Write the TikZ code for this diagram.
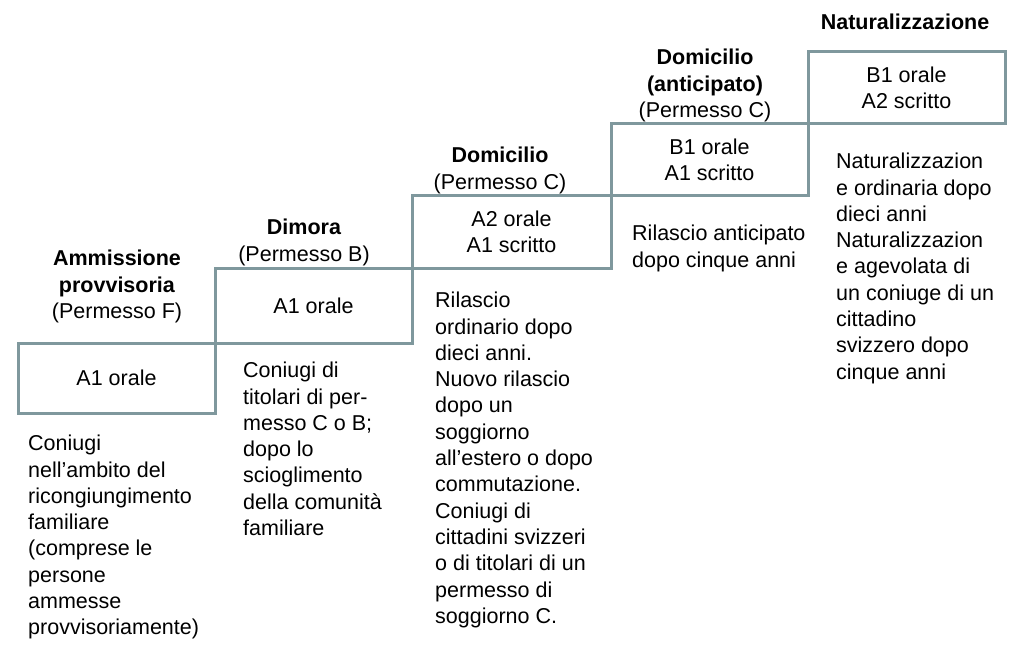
\documentclass[tikz,border=0pt]{standalone}
\usepackage{fontspec}
\setmainfont{Liberation Sans}
\usepackage{xcolor}
\usepackage{tikz}

\definecolor{stepline}{RGB}{127,152,157}
\newcommand{\stepfont}{\fontsize{21.5}{26.3}\selectfont}

\tikzset{
  lvlbox/.style={draw=stepline, line width=3pt, inner sep=0pt,
    minimum width=197pt, align=center, font=\stepfont},
  lvltitle/.style={anchor=north, inner sep=0pt, align=center, font=\stepfont},
  lvlnote/.style={anchor=north west, inner sep=0pt, align=left, font=\stepfont}
}

\begin{document}
\begin{tikzpicture}[x=1pt, y=-1pt]
\useasboundingbox (0,0) rectangle (1024,655);

% steps
\node[lvlbox, minimum height=70pt] (b1) at (116.5,378) {A1 orale};
\node[lvlbox, minimum height=75pt] (b2) at (313.5,305.5) {A1 orale};
\node[lvlbox, minimum width=199pt, minimum height=73pt] (b3) at (511.5,231.5) {A2 orale\\A1 scritto};
\node[lvlbox, minimum height=71pt] (b4) at (709.5,159.5) {B1 orale\\A1 scritto};
\node[lvlbox, minimum height=72pt] (b5) at (906.5,88) {B1 orale\\A2 scritto};

% titles
\node[lvltitle] (t1) at (117,250) {\textbf{Ammissione}\\\textbf{provvisoria}\\(Permesso F)};
\node[lvltitle] (t2) at (304,219) {\textbf{Dimora}\\(Permesso B)};
\node[lvltitle] (t3) at (500,147) {\textbf{Domicilio}\\(Permesso C)};
\node[lvltitle] (t4) at (705,49) {\textbf{Domicilio}\\\textbf{(anticipato)}\\(Permesso C)};
\node[lvltitle] (t5) at (905,14) {\textbf{Naturalizzazione}};

% notes
\node[lvlnote] (n1) at (28,435) {Coniugi\\nell’ambito del\\ricongiungimento\\familiare\\(comprese le\\persone\\ammesse\\provvisoriamente)};
\node[lvlnote] (n2) at (243,362) {Coniugi di\\titolari di per-\\messo C o B;\\dopo lo\\scioglimento\\della comunità\\familiare};
\node[lvlnote] (n3) at (435,292) {Rilascio\\ordinario dopo\\dieci anni.\\Nuovo rilascio\\dopo un\\soggiorno\\all’estero o dopo\\commutazione.\\Coniugi di\\cittadini svizzeri\\o di titolari di un\\permesso di\\soggiorno C.};
\node[lvlnote] (n4) at (632,225) {Rilascio anticipato\\dopo cinque anni};
\node[lvlnote] (n5) at (836,153) {Naturalizzazion\\e ordinaria dopo\\dieci anni\\Naturalizzazion\\e agevolata di\\un coniuge di un\\cittadino\\svizzero dopo\\cinque anni};
\end{tikzpicture}
\end{document}
